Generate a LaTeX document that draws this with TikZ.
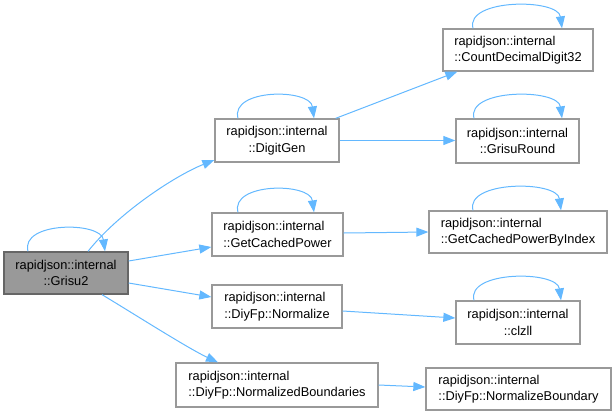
\documentclass[tikz,border=0pt]{standalone}
\usepackage{fontspec}
\setmainfont{Liberation Sans}
\usetikzlibrary{arrows.meta}
\definecolor{edgec}{HTML}{63B8FF}
\definecolor{boxb}{HTML}{999999}
\definecolor{curfill}{HTML}{999999}
\definecolor{curb}{HTML}{666666}
\begin{document}
\begin{tikzpicture}[x=1pt,y=-1pt,
  box/.style={draw=boxb, line width=1.3pt, fill=white, inner sep=0pt,
    font=\fontsize{12.8}{16.5}\selectfont},
  cur/.style={box, fill=curfill, draw=curb},
  edge/.style={draw=edgec, line width=1pt, -{Triangle[length=12pt,width=9pt]}},
]
\useasboundingbox (0,0) rectangle (616,416);

\node[cur, minimum width=124pt, minimum height=42pt, align=center] (grisu) at (66,273) {rapidjson::internal\\::Grisu2};
\node[box, minimum width=124pt, minimum height=43pt, align=center] (digitgen) at (277,140.5) {rapidjson::internal\\::DigitGen};
\node[box, minimum width=150pt, minimum height=42pt, align=left] (cdd) at (518,50) {rapidjson::internal\\::CountDecimalDigit32};
\node[box, minimum width=123pt, minimum height=44pt, align=center] (ground) at (517.5,141) {rapidjson::internal\\::GrisuRound};
\node[box, minimum width=131pt, minimum height=43pt, align=left] (gcp) at (277.5,234.5) {rapidjson::internal\\::GetCachedPower};
\node[box, minimum width=130pt, minimum height=43pt, align=left] (norm) at (277,306.5) {rapidjson::internal\\::DiyFp::Normalize};
\node[box, minimum width=202pt, minimum height=44pt, align=left] (nbs) at (277,385) {rapidjson::internal\\::DiyFp::NormalizedBoundaries};
\node[box, minimum width=178pt, minimum height=42pt, align=left] (gcpbi) at (518,232) {rapidjson::internal\\::GetCachedPowerByIndex};
\node[box, minimum width=124pt, minimum height=43pt, align=center] (clzll) at (518,322.5) {rapidjson::internal\\::clzll};
\node[box, minimum width=185pt, minimum height=42pt, align=left] (nb) at (518.5,389) {rapidjson::internal\\::DiyFp::NormalizeBoundary};

% self loops
\draw[edge] ([xshift=-38pt]grisu.north) .. controls +(-8,-30) and +(-4,-30) .. ([xshift=39pt]grisu.north);
\draw[edge] ([xshift=-39pt]digitgen.north) .. controls +(-8,-30) and +(-4,-30) .. ([xshift=37pt]digitgen.north);
\draw[edge] ([xshift=-39.5pt]gcp.north) .. controls +(-8,-30) and +(-4,-30) .. ([xshift=36.5pt]gcp.north);
\draw[edge] ([xshift=-45pt]cdd.north) .. controls +(-8,-30) and +(-4,-30) .. ([xshift=44pt]cdd.north);
\draw[edge] ([xshift=-43.5pt]ground.north) .. controls +(-8,-30) and +(-4,-30) .. ([xshift=44.5pt]ground.north);
\draw[edge] ([xshift=-45pt]gcpbi.north) .. controls +(-8,-30) and +(-4,-30) .. ([xshift=43pt]gcpbi.north);
\draw[edge] ([xshift=-44pt]clzll.north) .. controls +(-8,-30) and +(-4,-30) .. ([xshift=43pt]clzll.north);

% edges
\draw[edge] ([xshift=22pt]grisu.north) .. controls +(30,-38) and +(-40,16) .. ([yshift=-19.5pt]digitgen.west);
\draw[edge] ([yshift=12pt]grisu.east) -- ([yshift=-12.5pt]gcp.west);
\draw[edge] ([yshift=-10pt]grisu.east) -- ([yshift=9.5pt]norm.west);
\draw[edge] ([xshift=36pt]grisu.south) .. controls +(30,18) and +(-30,-14) .. ([xshift=-59pt]nbs.north);
\draw[edge] ([xshift=-4pt]digitgen.north east) -- ([xshift=15pt]cdd.south west);
\draw[edge] (digitgen.east) -- (digitgen.east -| ground.west);
\draw[edge] ([yshift=1.5pt]gcp.east) -- (gcpbi.west);
\draw[edge] ([yshift=-4.5pt]norm.east) -- ([yshift=4.5pt]clzll.west);
\draw[edge] (nbs.east) -- ([yshift=2pt]nb.west);
\end{tikzpicture}
\end{document}
